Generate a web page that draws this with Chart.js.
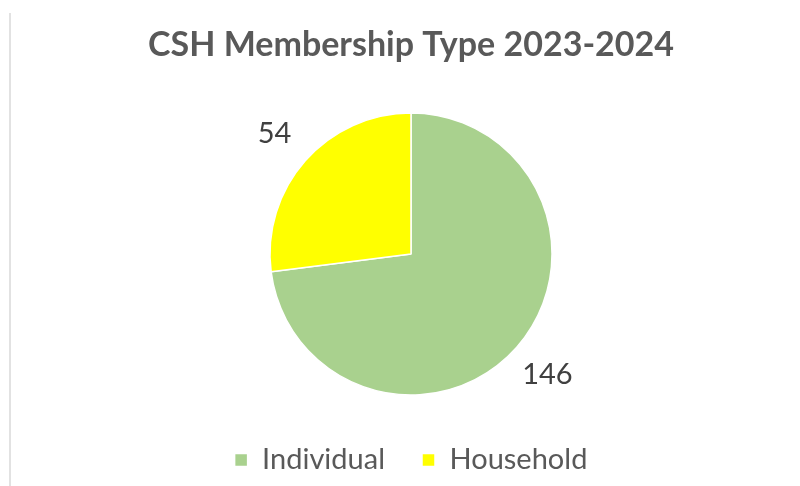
<!DOCTYPE html>
<html>
<head>
<meta charset="utf-8">
<title>CSH Membership Type 2023-2024</title>
<script src="https://cdn.jsdelivr.net/npm/chart.js@4.4.1/dist/chart.umd.min.js"></script>
<style>
  html, body { margin: 0; padding: 0; background: #fff; }
  #wrap { width: 800px; height: 486px; position: relative; }
</style>
</head>
<body>
<div id="wrap"><canvas id="chart"></canvas></div>
<script>
// data
const categories = ["Individual", "Household"];
const members = [146, 54];
const sliceColors = ["#A9D18E", "#FFFF00"];

const FONT = "Lato, 'Open Sans', sans-serif";

// value labels just outside each slice
const sliceLabels = {
  id: "sliceLabels",
  afterDatasetsDraw(chart) {
    const { ctx } = chart;
    const meta = chart.getDatasetMeta(0);
    ctx.save();
    ctx.font = `29px ${FONT}`;
    ctx.fillStyle = "#404040";
    ctx.textAlign = "center";
    ctx.textBaseline = "middle";
    meta.data.forEach((arc, i) => {
      const { x, y, startAngle, endAngle, outerRadius } = arc.getProps(
        ["x", "y", "startAngle", "endAngle", "outerRadius"], true);
      const mid = (startAngle + endAngle) / 2;
      const r = outerRadius * 1.29;
      ctx.fillText(String(members[i]), x + Math.cos(mid) * r, y + Math.sin(mid) * r);
    });
    ctx.restore();
  },
};

// thin grey frame edge on the left, like the pasted screenshot
const leftEdge = {
  id: "leftEdge",
  beforeDraw(chart) {
    const { ctx } = chart;
    ctx.save();
    ctx.strokeStyle = "#d9d9d9";
    ctx.lineWidth = 1.5;
    ctx.beginPath();
    ctx.moveTo(10, 13);
    ctx.lineTo(10, 486);
    ctx.stroke();
    ctx.restore();
  },
};

new Chart(document.getElementById("chart"), {
  type: "pie",
  data: {
    labels: categories,
    datasets: [
      {
        data: members,
        backgroundColor: sliceColors,
        borderColor: "#ffffff",
        borderWidth: 1.5,
        radius: 141,
      },
    ],
  },
  options: {
    responsive: true,
    maintainAspectRatio: false,
    animation: false,
    layout: { padding: { left: 22, right: 0, top: 0, bottom: 1.5 } },
    plugins: {
      title: {
        display: true,
        text: "CSH Membership Type 2023-2024",
        color: "#595959",
        font: { family: FONT, size: 34, weight: "bold" },
        padding: { top: 25, bottom: 33.7 },
      },
      legend: {
        position: "bottom",
        labels: {
          color: "#595959",
          font: { family: FONT, size: 29 },
          boxWidth: 13,
          boxHeight: 13,
          padding: 37,
        },
      },
      tooltip: { enabled: false },
    },
  },
  plugins: [sliceLabels, leftEdge],
});
</script>
</body>
</html>
